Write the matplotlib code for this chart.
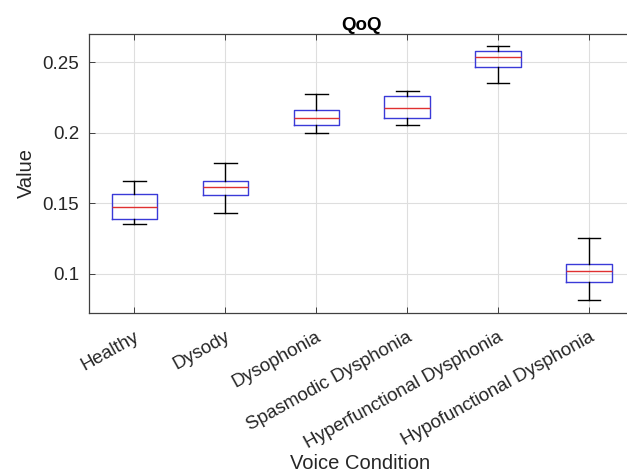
import matplotlib
matplotlib.use('Agg')
import matplotlib.pyplot as plt
import matplotlib.transforms as mtransforms

plt.rcParams['font.family'] = ['Liberation Sans', 'DejaVu Sans']

# valores
categories = ['Healthy', 'Dysody', 'Dysophonia', 'Spasmodic Dysphonia',
              'Hyperfunctional Dysphonia', 'Hypofunctional Dysphonia']
medians = [0.1469, 0.1613, 0.2103, 0.2176, 0.2535, 0.1020]
q1 = [0.1387, 0.1554, 0.2053, 0.2107, 0.2465, 0.0937]
q3 = [0.1561, 0.1658, 0.2162, 0.2263, 0.2580, 0.1067]
whisker_lo = [0.1351, 0.1429, 0.1994, 0.2057, 0.2355, 0.0812]
whisker_hi = [0.1658, 0.1788, 0.2273, 0.2296, 0.2618, 0.1249]

stats = []
for i, name in enumerate(categories):
    stats.append({'label': name, 'med': medians[i], 'q1': q1[i], 'q3': q3[i],
                  'whislo': whisker_lo[i], 'whishi': whisker_hi[i], 'fliers': []})

fig = plt.figure(figsize=(6.27, 4.75), dpi=100)
ax = fig.add_axes([89 / 627, (475 - 313) / 475, (634.5 - 89) / 627, (313 - 34) / 475])

ax.bxp(stats, positions=range(1, len(categories) + 1), widths=0.5,
       boxprops=dict(color='#3a3ad8', linewidth=1.0),
       medianprops=dict(color='#e03030', linewidth=1.0),
       whiskerprops=dict(color='black', linewidth=1.0),
       capprops=dict(color='black', linewidth=1.0),
       capwidths=0.25, showfliers=False)

ax.set_xlim(0.5, 6.5)
ax.set_ylim(0.072, 0.270)
ax.set_yticks([0.1, 0.15, 0.2, 0.25])
ax.set_yticklabels(['0.1', '0.15', '0.2', '0.25'])
ax.set_xticks(range(1, len(categories) + 1))
ax.set_xticklabels(categories, rotation=29, ha='right', va='top')

ax.grid(True, color='#dedede', linewidth=0.8)
ax.set_axisbelow(True)
ax.tick_params(direction='in', length=4, top=True, right=True, labelsize=13.5,
               colors='#262626', width=0.6)
ax.tick_params(axis='y', pad=7)
ax.tick_params(axis='x', pad=11)
for s in ax.spines.values():
    s.set_color('#404040')
    s.set_linewidth(0.9)

# rotulos do eixo x ficam um pouco a direita do tick (estilo MATLAB)
offset = mtransforms.ScaledTranslation(8 / 100, 0, fig.dpi_scale_trans)
for lbl in ax.get_xticklabels():
    lbl.set_transform(lbl.get_transform() + offset)

ax.set_title('QoQ', fontsize=13.5, fontweight='bold', pad=3)
ax.set_ylabel('Value', fontsize=14.5, color='#262626')
ax.set_xlabel('Voice Condition', fontsize=14.5, color='#262626')
ax.yaxis.set_label_coords(-0.097, 0.5)
ax.xaxis.set_label_coords(0.497, -0.505)

fig.savefig('out.png', dpi=100)
